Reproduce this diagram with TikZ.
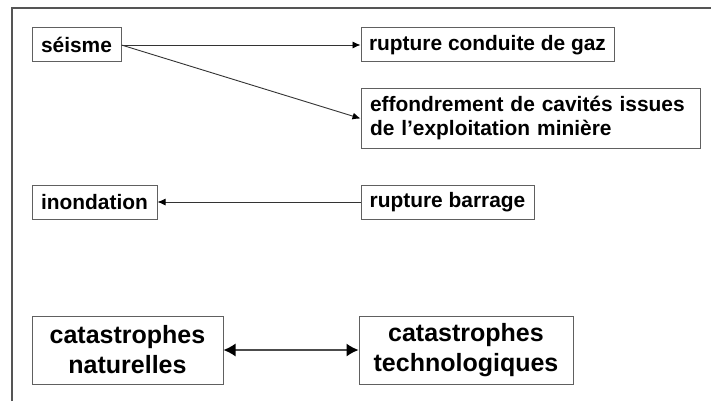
\documentclass[tikz,border=0pt]{standalone}
\usepackage{fontspec}
\setmainfont{Liberation Sans}
\usetikzlibrary{arrows.meta}
\definecolor{boxgray}{HTML}{606060}
\definecolor{framegray}{HTML}{555555}
\tikzset{
  box/.style={draw=boxgray, line width=1pt, inner sep=0pt, align=center,
    font=\bfseries\fontsize{20.9}{24}\selectfont},
  bigbox/.style={box, font=\bfseries\fontsize{25}{30}\selectfont},
  conn/.style={line width=0.9pt, color=black!80, -{Latex[length=8pt,width=7pt,color=black]}},
  dconn/.style={line width=1.2pt, color=black!70, {Latex[length=12pt,width=13pt,color=black]}-{Latex[length=12pt,width=13pt,color=black]}}
}
\begin{document}
\begin{tikzpicture}[x=1pt,y=1pt]
\useasboundingbox (0,0) rectangle (711,-401);
\fill[white] (0,0) rectangle (711,-401);
\draw[line width=2pt, framegray] (12,-401) -- (12,-8) -- (711,-8);
\node[box, minimum width=89pt, minimum height=34pt] (seisme) at (76.5,-45) {séisme};
\node[box, minimum width=253pt, minimum height=34pt] (gaz) at (487.5,-45) {rupture conduite de gaz};
\node[box, minimum width=339pt, minimum height=59pt, text width=321pt, align=left] (effond) at (530.5,-118.5) {effondrement de cavités issues\\de l’exploitation minière};
\node[box, minimum width=125pt, minimum height=34pt] (inond) at (94.5,-202) {inondation};
\node[box, minimum width=173pt, minimum height=34pt] (barrage) at (447.5,-202) {rupture barrage};
\node[bigbox, minimum width=191pt, minimum height=68pt] (nat) at (127.5,-350) {catastrophes\\naturelles};
\node[bigbox, minimum width=214pt, minimum height=68pt] (tech) at (466,-350) {catastrophes\\technologiques};
\draw[conn] (seisme.east) -- (gaz.west);
\draw[conn] (seisme.east) -- (effond.west);
\draw[conn] (barrage.west) -- (inond.east);
\draw[dconn] (nat.east) -- (tech.west);
\end{tikzpicture}
\end{document}
